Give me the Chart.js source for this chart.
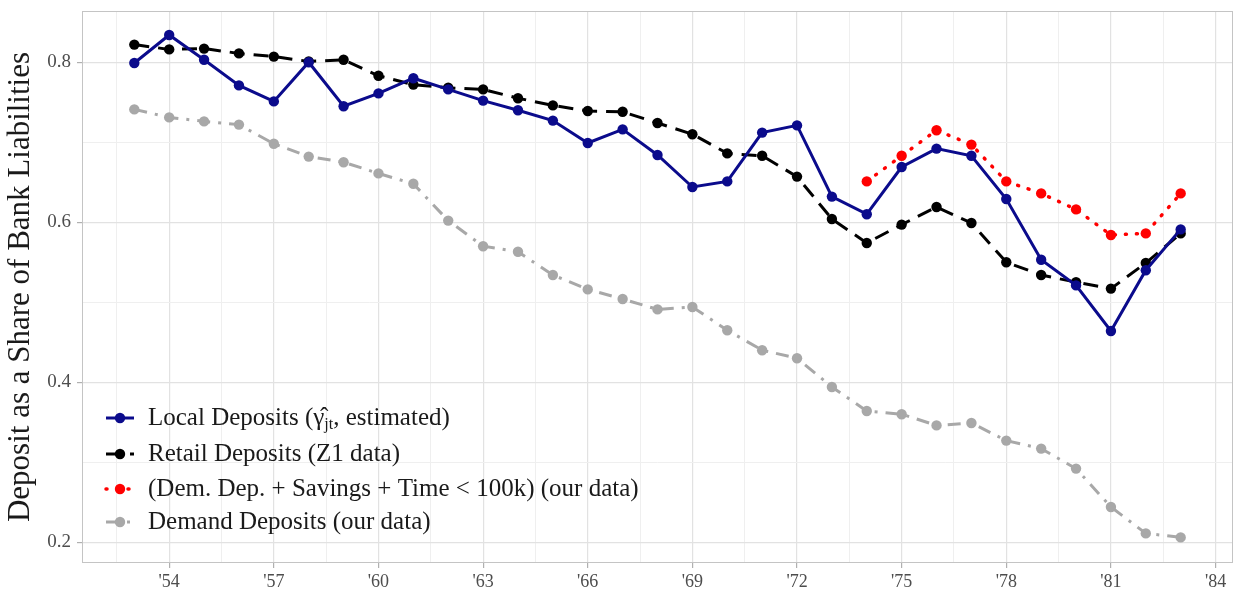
<!DOCTYPE html>
<html>
<head>
<meta charset="utf-8">
<script src="https://cdn.jsdelivr.net/npm/chart.js@4.4.0/dist/chart.umd.min.js"></script>
<style>
  html, body { margin: 0; padding: 0; background: #fff; }
  #wrap { width: 1239px; height: 589px; position: relative; }
</style>
</head>
<body>
<div id="wrap"><canvas id="chart"></canvas></div>
<script>
// data
var years = [1953,1954,1955,1956,1957,1958,1959,1960,1961,1962,1963,1964,1965,1966,1967,1968,
             1969,1970,1971,1972,1973,1974,1975,1976,1977,1978,1979,1980,1981,1982,1983];
var localDep = [0.799,0.834,0.803,0.771,0.751,0.800,0.745,0.761,0.780,0.766,0.752,0.740,0.727,0.699,0.716,0.684,
                0.644,0.651,0.712,0.721,0.632,0.610,0.669,0.692,0.683,0.629,0.553,0.521,0.464,0.540,0.591];
var retailDep = [0.822,0.816,0.817,0.811,0.807,0.801,0.803,0.783,0.772,0.768,0.766,0.755,0.746,0.739,0.738,0.724,
                 0.710,0.686,0.683,0.657,0.604,0.574,0.597,0.619,0.599,0.550,0.534,0.525,0.517,0.549,0.586];
var smallYears = [1974,1975,1976,1977,1978,1979,1980,1981,1982,1983];
var smallDep = [0.651,0.683,0.715,0.697,0.651,0.636,0.616,0.584,0.586,0.636];
var demandDep = [0.741,0.731,0.726,0.722,0.698,0.682,0.675,0.661,0.648,0.602,0.570,0.563,0.534,0.516,0.504,0.491,
                 0.494,0.465,0.440,0.430,0.394,0.364,0.360,0.346,0.349,0.327,0.317,0.292,0.244,0.211,0.206];

var xTicks = [1954,1957,1960,1963,1966,1969,1972,1975,1978,1981,1984];
var yTicks = [0.2,0.4,0.6,0.8];

var seriesNames = [
  "Local Deposits",
  "Retail Deposits (Z1 data)",
  "(Dem. Dep. + Savings + Time < 100k) (our data)",
  "Demand Deposits (our data)"
];

var SERIF = "'Liberation Serif', 'DejaVu Serif', serif";

function pts(xs, ys) {
  return xs.map(function(x, i) { return { x: x, y: ys[i] }; });
}

var styles = [
  { color: "#0b0b8c", dash: [], width: 3 },
  { color: "#000000", dash: [15, 9], width: 3 },
  { color: "#ff0000", dash: [1, 10], width: 3.5, cap: "round" },
  { color: "#a8a8a8", dash: [13, 8, 3, 8], width: 3 }
];

var datasets = [localDep, retailDep, smallDep, demandDep].map(function(vals, i) {
  var s = styles[i];
  return {
    label: seriesNames[i],
    data: pts(i == 2 ? smallYears : years, vals),
    borderColor: s.color,
    backgroundColor: s.color,
    borderWidth: s.width,
    borderDash: s.dash,
    borderCapStyle: s.cap || "butt",
    pointRadius: 5.2,
    pointBorderWidth: 0,
    pointBackgroundColor: s.color,
    tension: 0,
    fill: false,
    order: [1, 2, 0, 3][i]
  };
});

// legend drawn inside the panel, bottom left, like the ggplot one
var insideLegend = {
  id: "insideLegend",
  afterDatasetsDraw: function(chart) {
    var ctx = chart.ctx;
    var rows = [418, 454, 489, 522];
    ctx.save();
    for (var i = 0; i < 4; i++) {
      var s = styles[i], y = rows[i];
      ctx.strokeStyle = s.color;
      ctx.lineWidth = s.width;
      ctx.lineCap = s.cap || "butt";
      ctx.setLineDash(s.dash);
      ctx.beginPath();
      ctx.moveTo(106, y);
      ctx.lineTo(134, y);
      ctx.stroke();
      ctx.setLineDash([]);
      ctx.fillStyle = s.color;
      ctx.beginPath();
      ctx.arc(120, y, 5.2, 0, Math.PI * 2);
      ctx.fill();
    }
    ctx.fillStyle = "#1a1a1a";
    ctx.textBaseline = "middle";
    ctx.textAlign = "left";
    ctx.font = "25px " + SERIF;
    // first row has the gamma-hat with subscript jt
    var x = 148;
    var parts = ["Local Deposits (", "\u03B3\u0302"];
    parts.forEach(function(p) { ctx.fillText(p, x, rows[0]); x += ctx.measureText(p).width; });
    ctx.font = "16px " + SERIF;
    ctx.fillText("jt", x, rows[0] + 7);
    x += ctx.measureText("jt").width;
    ctx.font = "25px " + SERIF;
    ctx.fillText(", estimated)", x, rows[0]);
    for (var j = 1; j < 4; j++) ctx.fillText(seriesNames[j], 148, rows[j]);
    ctx.restore();
  },
  beforeDatasetsDraw: function(chart) {
    var a = chart.chartArea, ctx = chart.ctx;
    ctx.save();
    ctx.strokeStyle = "#c4c4c4";
    ctx.lineWidth = 1;
    ctx.strokeRect(a.left + 0.5, a.top + 0.5, a.right - a.left - 1, a.bottom - a.top - 1);
    ctx.restore();
  }
};

function isIn(arr, v) {
  return arr.some(function(t) { return Math.abs(t - v) < 1e-6; });
}

new Chart(document.getElementById("chart"), {
  type: "line",
  data: { datasets: datasets },
  options: {
    responsive: true,
    maintainAspectRatio: false,
    animation: false,
    layout: { padding: { top: 11, right: 6, left: 0, bottom: 0 } },
    plugins: {
      legend: { display: false },
      tooltip: { enabled: false }
    },
    scales: {
      x: {
        type: "linear",
        min: 1951.5,
        max: 1984.5,
        afterBuildTicks: function(axis) {
          var t = [];
          xTicks.forEach(function(v) { t.push({ value: v - 1.5 }); t.push({ value: v }); });
          axis.ticks = t;
        },
        afterFit: function(scale) {
          scale.height = 26;
          scale.paddingLeft = 0;
          scale.paddingRight = 0;
        },
        ticks: {
          autoSkip: false,
          maxRotation: 0,
          padding: 3,
          color: "#4d4d4d",
          font: { family: SERIF, size: 18 },
          callback: function(v) { return isIn(xTicks, v) ? "'" + String(v).slice(2) : ""; }
        },
        grid: {
          color: function(c) { return isIn(xTicks, c.tick.value) ? "#e2e2e2" : "#efefef"; },
          lineWidth: function(c) { return isIn(xTicks, c.tick.value) ? 1.2 : 1; },
          tickColor: function(c) { return isIn(xTicks, c.tick.value) ? "#b0b0b0" : "rgba(0,0,0,0)"; },
          tickLength: 5
        },
        border: { display: false }
      },
      y: {
        min: 0.174,
        max: 0.864,
        afterBuildTicks: function(axis) {
          var t = [];
          yTicks.forEach(function(v) { t.push({ value: v }); if (v < 0.8) t.push({ value: +(v + 0.1).toFixed(1) }); });
          axis.ticks = t;
        },
        afterFit: function(scale) {
          scale.width = 82;
          scale.paddingTop = 0;
          scale.paddingBottom = 0;
        },
        ticks: {
          autoSkip: false,
          padding: 6,
          color: "#4d4d4d",
          font: { family: SERIF, size: 19 },
          callback: function(v) { return isIn(yTicks, v) ? v.toFixed(1) : ""; }
        },
        grid: {
          color: function(c) { return isIn(yTicks, c.tick.value) ? "#e2e2e2" : "#efefef"; },
          lineWidth: function(c) { return isIn(yTicks, c.tick.value) ? 1.2 : 1; },
          tickColor: function(c) { return isIn(yTicks, c.tick.value) ? "#b0b0b0" : "rgba(0,0,0,0)"; },
          tickLength: 5
        },
        border: { display: false },
        title: {
          display: true,
          text: "Deposit as a Share of Bank Liabilities",
          color: "#1a1a1a",
          font: { family: SERIF, size: 31 },
          padding: { top: 2, bottom: 0 }
        }
      }
    }
  },
  plugins: [insideLegend]
});
</script>
</body>
</html>
